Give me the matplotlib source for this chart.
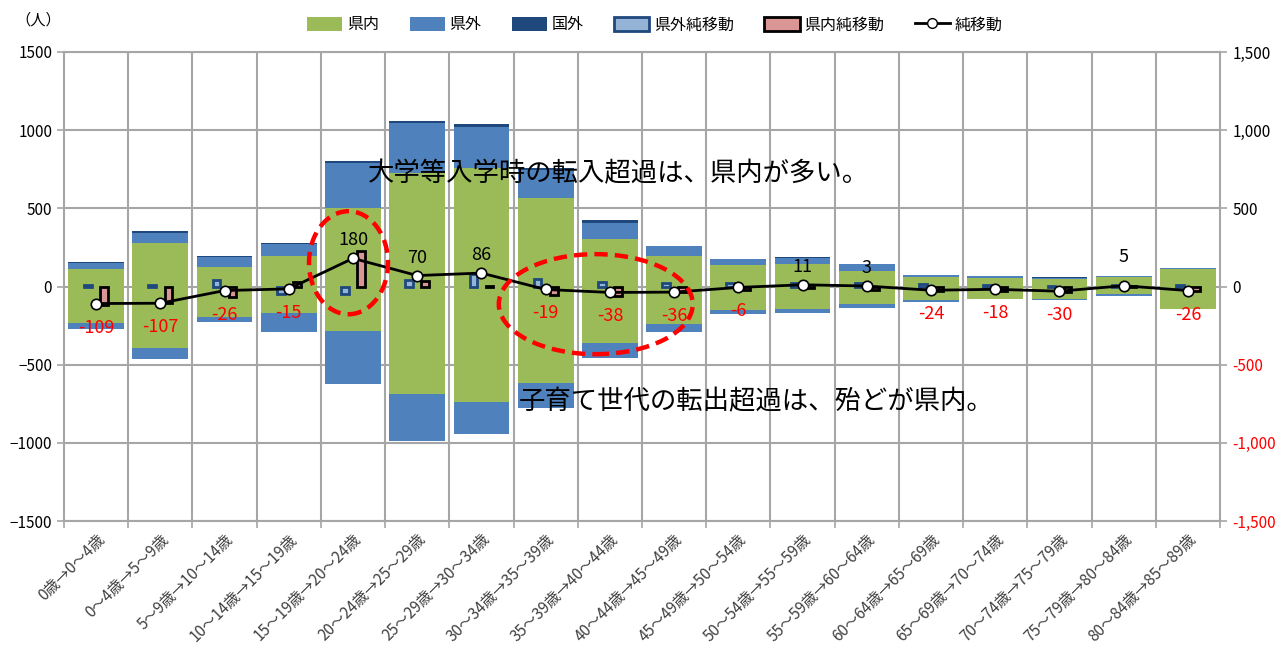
import matplotlib
matplotlib.use("Agg")
import matplotlib.pyplot as plt
from matplotlib.patches import Ellipse, Patch
from matplotlib.lines import Line2D
import numpy as np

plt.rcParams['font.family'] = ['Noto Sans CJK JP', 'DejaVu Sans']

categories = ["0歳→0～4歳", "0～4歳→5～9歳", "5～9歳→10～14歳", "10～14歳→15～19歳",
              "15～19歳→20～24歳", "20～24歳→25～29歳", "25～29歳→30～34歳", "30～34歳→35～39歳",
              "35～39歳→40～44歳", "40～44歳→45～49歳", "45～49歳→50～54歳", "50～54歳→55～59歳",
              "55～59歳→60～64歳", "60～64歳→65～69歳", "65～69歳→70～74歳", "70～74歳→75～79歳",
              "75～79歳→80～84歳", "80～84歳→85～89歳"]

# 転入 (positive)
kennai_in = [113, 281, 124, 196, 501, 725, 761, 563, 303, 196, 139, 145, 96, 58, 53, 51, 60, 111]
kengai_in = [37, 60, 64, 78, 286, 320, 260, 181, 106, 61, 34, 39, 47, 15, 13, 6, 5, 5]
kokugai_in = [6, 15, 8, 3, 15, 15, 17, 17, 15, 3, 2, 2, 2, 2, 2, 1, 1, 1]
# 転出 (negative)
kennai_out = [-235, -394, -192, -171, -284, -689, -742, -618, -362, -237, -151, -145, -109, -85, -77, -79, -51, -141]
kengai_out = [-36, -71, -36, -123, -339, -298, -203, -156, -96, -57, -22, -26, -30, -13, -6, -8, -7, -4]
# 純移動
net_kengai = [8, 8, 43, -47, -47, 43, 79, 47, 30, 20, 20, 20, 25, 15, 12, 3, 10, 10]
net_kennai = [-117, -107, -64, 26, 224, 36, 5, -55, -60, -38, -20, -8, -20, -30, -28, -34, 5, -28]
net_total = [-109, -107, -26, -15, 180, 70, 86, -19, -38, -36, -6, 11, 3, -24, -18, -30, 5, -26]

yticks = [-1500, -1000, -500, 0, 500, 1000, 1500]

C_GREEN = '#9BBB59'
C_BLUE = '#4F81BD'
C_NAVY = '#1F497D'
C_LBLUE = '#95B3D7'
C_PINK = '#D99694'
C_GRID = '#A6A6A6'

fig = plt.figure(figsize=(12.83, 6.53), dpi=100)
ax = fig.add_axes([64/1283, 1-521/653, (1220-64)/1283, (521-52)/653])
x = np.arange(len(categories))
n = len(categories)

kennai_in_a = np.array(kennai_in)
kengai_in_a = np.array(kengai_in)
kennai_out_a = np.array(kennai_out)

bw = 0.87
ax.bar(x, kennai_in_a, bw, color=C_GREEN, zorder=2)
ax.bar(x, kengai_in_a, bw, bottom=kennai_in_a, color=C_BLUE, zorder=2)
ax.bar(x, kokugai_in, bw, bottom=kennai_in_a + kengai_in_a, color=C_NAVY, zorder=2)
ax.bar(x, kennai_out_a, bw, color=C_GREEN, zorder=2)
ax.bar(x, kengai_out, bw, bottom=kennai_out_a, color=C_BLUE, zorder=2)

ax.set_xlim(-0.5, n - 0.5)
ax.set_ylim(-1500, 1500)
ax.set_yticks(yticks)
ax.set_yticklabels([str(v).replace('-', '−') for v in yticks], fontsize=11)
ax.set_xticks(x)
ax.set_xticklabels(categories, rotation=45, ha='right', va='top', rotation_mode='anchor',
                   fontsize=11, color='#404040')
ax.tick_params(axis='x', length=0, pad=7)
ax.tick_params(axis='y', length=5, color=C_GRID, width=1.2)
ax.set_xticks(np.arange(-0.5, n, 1), minor=True)
ax.tick_params(axis='x', which='minor', length=5, color=C_GRID, width=1.2)
for yv in yticks:
    ax.axhline(yv, color=C_GRID, lw=1.5, zorder=0)
for xv in np.arange(0.5, n - 0.5, 1):
    ax.axvline(xv, color=C_GRID, lw=1.5, zorder=0)
for s in ax.spines.values():
    s.set_color(C_GRID)
    s.set_linewidth(1.5)

ax2 = ax.twinx()
ax2.set_ylim(-1500, 1500)
ax2.set_yticks(yticks)
ax2.set_yticklabels([f"{v:,}" for v in yticks], fontsize=11)
for lbl, v in zip(ax2.get_yticklabels(), yticks):
    lbl.set_color('red' if v < 0 else 'black')
ax2.tick_params(axis='y', length=5, color=C_GRID, width=1.2, pad=4)
for s in ax2.spines.values():
    s.set_visible(False)

nbw = 0.12
ax2.bar(x - 0.125, net_kengai, nbw, color=C_LBLUE, edgecolor=C_NAVY, linewidth=2, zorder=3)
ax2.bar(x + 0.125, net_kennai, nbw, color=C_PINK, edgecolor='black', linewidth=2, zorder=3)
ax2.plot(x, net_total, color='black', lw=2.0, marker='o', markersize=7.5,
         markerfacecolor='white', markeredgecolor='black', markeredgewidth=1.2, zorder=5)

extra_up = {16: 29}
for i, v in enumerate(net_total):
    if v >= 0:
        dy = extra_up.get(i, 18)
        ax2.annotate(str(v), (x[i], v), xytext=(0, dy * 0.72), textcoords='offset points',
                     ha='center', va='center', fontsize=13, color='black', zorder=6)
    else:
        ax2.annotate(str(v), (x[i], v), xytext=(0, -24 * 0.72), textcoords='offset points',
                     ha='center', va='center', fontsize=13, color='red', zorder=6)

# annotations
ax2.add_patch(Ellipse((3.93, 152), 1.23, 659, fill=False, edgecolor='red', lw=3.2,
                      linestyle=(0, (3, 1.6)), zorder=7))
ax2.add_patch(Ellipse((7.78, -113), 3.02, 640, fill=False, edgecolor='red', lw=3.2,
                      linestyle=(0, (3, 1.6)), zorder=7))
ax2.text(4.23, 718, "大学等入学時の転入超過は、県内が多い。", fontsize=19, ha='left', va='center', zorder=8)
ax2.text(6.585, -740, "子育て世代の転出超過は、殆どが県内。", fontsize=19, ha='left', va='center', zorder=8)

fig.text(15/1283, 1 - 20/653, "（人）", fontsize=11, ha='left', va='center')

handles = [
    Patch(facecolor=C_GREEN, edgecolor='none'),
    Patch(facecolor=C_BLUE, edgecolor='none'),
    Patch(facecolor=C_NAVY, edgecolor='none'),
    Patch(facecolor=C_LBLUE, edgecolor=C_NAVY, linewidth=2),
    Patch(facecolor=C_PINK, edgecolor='black', linewidth=2),
    Line2D([0], [0], color='black', lw=2, marker='o', markersize=7,
           markerfacecolor='white', markeredgecolor='black'),
]
labels = ["県内", "県外", "国外", "県外純移動", "県内純移動", "純移動"]
fig.legend(handles, labels, loc='center', bbox_to_anchor=(655/1283, 1 - 25/653), ncol=6,
           frameon=False, fontsize=11.5, handlelength=2.2, handleheight=0.9,
           columnspacing=1.9, handletextpad=0.3)

fig.savefig("out.png", dpi=100)
